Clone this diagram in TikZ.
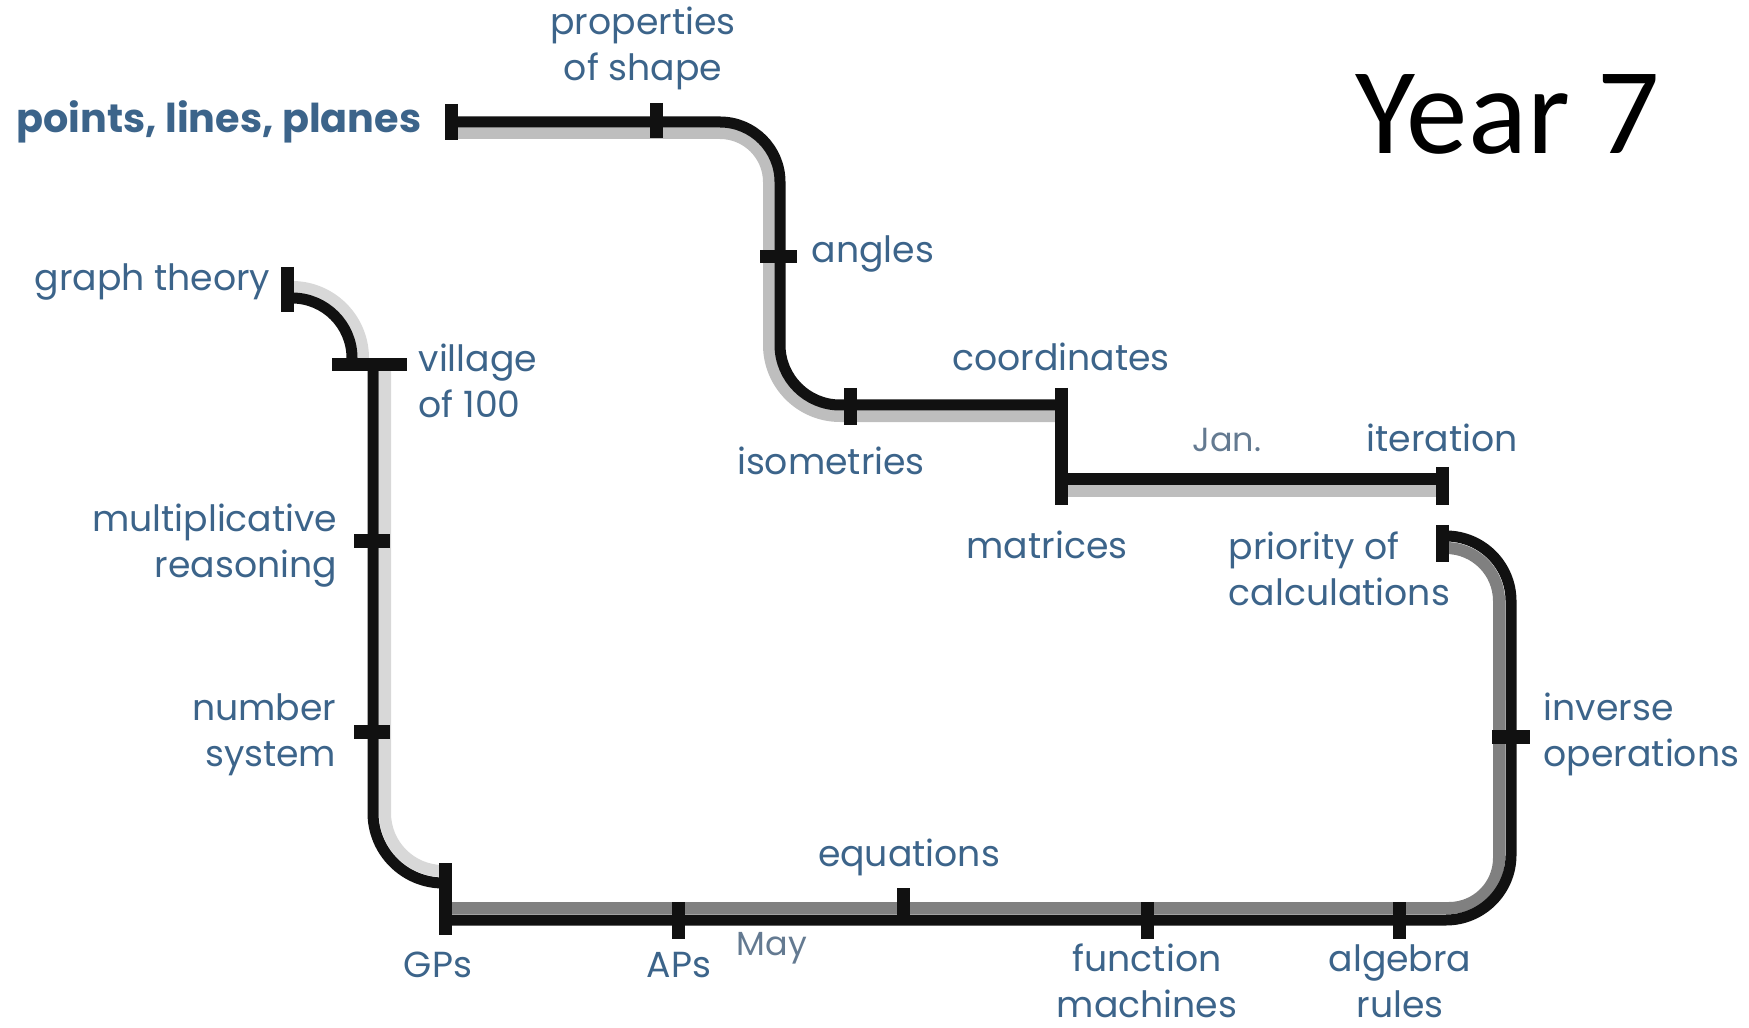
\documentclass[tikz,border=0pt]{standalone}
\usepackage{fontspec}
\newfontfamily\labfont{Poppins}
\newfontfamily\yearfont{Carlito}
\definecolor{lab}{RGB}{60,100,138}
\definecolor{labl}{RGB}{100,122,145}
\definecolor{trk}{RGB}{17,17,17}
\definecolor{shA}{RGB}{190,190,190}
\definecolor{shB}{RGB}{216,216,216}
\definecolor{shC}{RGB}{128,128,128}
\begin{document}
\begin{tikzpicture}[x=0.01cm,y=-0.01cm,
  track/.style={draw=trk,line width=0.11cm},
  shadowA/.style={draw=shA,line width=0.12cm},
  shadowB/.style={draw=shB,line width=0.12cm},
  shadowC/.style={draw=shC,line width=0.12cm},
  tick/.style={draw=trk,line width=0.13cm},
  lbl/.style={text=lab,font=\labfont\fontsize{10.3}{13.1}\selectfont,inner sep=0pt},
  lblbig/.style={text=lab,font=\labfont\bfseries\fontsize{11.3}{14}\selectfont,inner sep=0pt},
  lbllight/.style={text=labl,font=\labfont\fontsize{9.5}{12}\selectfont,inner sep=0pt},
  ]
\useasboundingbox (0,0) rectangle (1749,1028);

% stops
\coordinate (pts) at (451,122);
\coordinate (prop) at (656,122);
\coordinate (ang) at (780,257);
\coordinate (iso) at (850,405);
\coordinate (coord) at (1061,405);
\coordinate (matr) at (1061,479);
\coordinate (iter) at (1442,479);
\coordinate (prio) at (1442,536);
\coordinate (inv) at (1511,737);
\coordinate (alg) at (1399,920);
\coordinate (fun) at (1147,920);
\coordinate (equ) at (903,920);
\coordinate (aps) at (678,920);
\coordinate (gps) at (445,920);
\coordinate (gpsb) at (445,883);
\coordinate (num) at (373,732);
\coordinate (mult) at (373,541);
\coordinate (vil) at (373,365);
\coordinate (vilL) at (352,365);
\coordinate (gra) at (287,298);

% shadows
\draw[shadowA, rounded corners=0.49cm] (451,133) -- (769,133) -- (769,300);
\draw[shadowA, rounded corners=0.71cm] (769,250) -- (769,416) -- (1061,416);
\draw[shadowA] (1061,491) -- (1442,491);
\draw[shadowC, rounded corners=0.53cm] (1442,548) -- (1499,548) -- (1499,700);
\draw[shadowC, rounded corners=0.50cm] (1499,650) -- (1499,908) -- (445,908);
\draw[shadowB, rounded corners=0.58cm] (445,871) -- (385,871) -- (385,365);
\draw[shadowB, rounded corners=0.71cm] (363,365) -- (363,287) -- (293,287);

% tracks
\draw[track, rounded corners=0.6cm] (pts) -- (780,122) -- (780,405) -- (coord);
\draw[track] (matr) -- (iter);
\draw[track, rounded corners=0.65cm] (prio) -- (1511,536) -- (1511,920) -- (gps);
\draw[track, rounded corners=0.7cm] (gpsb) -- (373,883) -- (vil);
\draw[track, rounded corners=0.6cm] (vilL) -- (352,298) -- (gra);

% ticks
\draw[tick] (pts) ++(0,-18) -- ++(0,36);
\draw[tick] (prop) ++(0,-19) -- ++(0,35);
\draw[tick] (ang) ++(-20,0) -- ++(37,0);
\draw[tick] (iso) ++(0,-17) -- ++(0,37);
\draw[tick] (coord) ++(0,-17) -- ++(0,117);
\draw[tick] (iter) ++(0,-12) -- ++(0,38);
\draw[tick] (prio) ++(0,-11) -- ++(0,37);
\draw[tick] (inv) ++(-19,0) -- ++(38,0);
\draw[tick] (alg) ++(0,-18) -- ++(0,37);
\draw[tick] (fun) ++(0,-18) -- ++(0,37);
\draw[tick] (aps) ++(0,-18) -- ++(0,37);
\draw[tick] (equ) ++(0,-32) -- ++(0,32);
\draw[tick] (gps) ++(0,-57) -- ++(0,72);
\draw[tick] (num) ++(-19,0) -- ++(36,0);
\draw[tick] (mult) ++(-19,0) -- ++(36,0);
\draw[tick] (vil) ++(-41,0) -- ++(75,0);
\draw[tick] (gra) ++(0,-31) -- ++(0,45);

% labels
\node[lblbig, anchor=east] (tpts) at (422,122) {points, lines, planes};
\node[lbl, align=center] (tprop) at (643,48) {properties\\of shape};
\node[lbl, anchor=west] (tang) at (811,254) {angles};
\node[lbl] (tiso) at (831,461) {isometries};
\node[lbl] (tcoord) at (1061,357) {coordinates};
\node[lbllight] (tjan) at (1227,440) {Jan.};
\node[lbl] (titer) at (1442,438) {iteration};
\node[lbl] (tmatr) at (1047,545) {matrices};
\node[lbl, anchor=west, align=left] (tprio) at (1228,569) {priority of\\calculations};
\node[lbl, anchor=west, align=left] (tinv) at (1543,734) {inverse\\operations};
\node[lbl] (tequ) at (909,857) {equations};
\node[lbl] (tgps) at (438,965) {GPs};
\node[lbl] (taps) at (679,965) {APs};
\node[lbllight] (tmay) at (772,948) {May};
\node[lbl, align=center] (tfun) at (1147,981) {function\\machines};
\node[lbl, align=center] (talg) at (1400,981) {algebra\\rules};
\node[lbl, anchor=east] (tgra) at (271,282) {graph theory};
\node[lbl, anchor=west, align=left] (tvil) at (418,381) {village\\of 100};
\node[lbl, anchor=east, align=right] (tmult) at (338,546) {multiplicative\\reasoning};
\node[lbl, anchor=east, align=right] (tnum) at (337,735) {number\\system};
\node[font=\yearfont\fontsize{35}{40}\selectfont, inner sep=0pt, anchor=base] (year) at (1508,154) {Year 7};
\end{tikzpicture}
\end{document}
